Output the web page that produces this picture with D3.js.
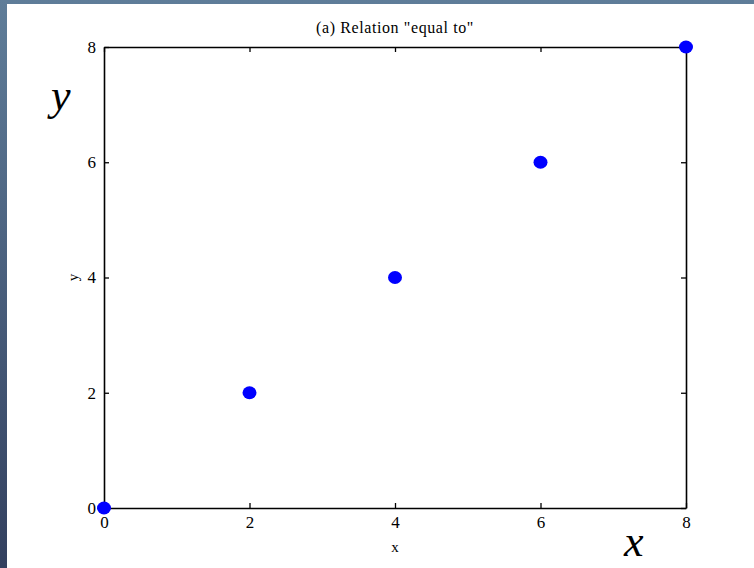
<!DOCTYPE html>
<html>
<head>
<meta charset="utf-8">
<script src="https://cdn.jsdelivr.net/npm/d3@7"></script>
<style>
  html, body { margin: 0; padding: 0; background: #4a6384; }
  svg { display: block; }
  text { font-family: "Liberation Serif", "Times New Roman", serif; fill: #000; }
</style>
</head>
<body>
<div id="chart"></div>
<script>
var width = 754,
	height = 568;

// data points of the relation "equal to"
var xValues = [0, 2, 4, 6, 8];
var yValues = [0, 2, 4, 6, 8];
var tickValues = [0, 2, 4, 6, 8];
var title = '(a) Relation "equal to"';

var svg = d3.select('#chart').append('svg')
	.attr('width', width)
	.attr('height', height);

// slide background
var defs = svg.append('defs');
var grad = defs.append('linearGradient')
	.attr('id', 'bg')
	.attr('x1', 0).attr('y1', 0).attr('x2', 0).attr('y2', 1);
grad.append('stop').attr('offset', '0%').attr('stop-color', '#5f7d99');
grad.append('stop').attr('offset', '100%').attr('stop-color', '#33405f');

svg.append('rect')
	.attr('width', width)
	.attr('height', height)
	.attr('fill', 'url(#bg)');

svg.append('rect')
	.attr('x', 7)
	.attr('y', 4)
	.attr('width', width - 7)
	.attr('height', height - 4)
	.attr('fill', '#fff');

var x = d3.scaleLinear().domain([0, 8]).range([104, 686]);
var y = d3.scaleLinear().domain([0, 8]).range([508, 47]);

var g = svg.append('g');

// bottom & left axes, ticks pointing in
g.append('g')
	.attr('transform', 'translate(0,' + y(0) + ')')
	.call(d3.axisBottom(x).tickValues(tickValues).tickSizeInner(-5).tickSizeOuter(0).tickPadding(8));

g.append('g')
	.attr('transform', 'translate(' + x(0) + ',0)')
	.call(d3.axisLeft(y).tickValues(tickValues).tickSizeInner(-5).tickSizeOuter(0).tickPadding(8));

// top & right mirror axes
g.append('g')
	.attr('transform', 'translate(0,' + y(8) + ')')
	.call(d3.axisTop(x).tickValues(tickValues).tickSizeInner(-5).tickSizeOuter(0).tickFormat(''));

g.append('g')
	.attr('transform', 'translate(' + x(8) + ',0)')
	.call(d3.axisRight(y).tickValues(tickValues).tickSizeInner(-5).tickSizeOuter(0).tickFormat(''));

g.selectAll('.domain').attr('stroke', '#000').attr('stroke-width', 1.6);
g.selectAll('.tick line').attr('stroke', '#000').attr('stroke-width', 1.3);
g.selectAll('.tick text')
	.style('font-family', '"Liberation Serif", serif')
	.style('font-size', '17px')
	.attr('fill', '#000');

// axis labels
svg.append('text')
	.attr('x', x(4))
	.attr('y', 552)
	.attr('text-anchor', 'middle')
	.style('font-size', '15px')
	.text('x');

svg.append('text')
	.attr('transform', 'translate(78,' + y(4) + ') rotate(-90)')
	.attr('text-anchor', 'middle')
	.style('font-size', '15px')
	.text('y');

svg.append('text')
	.attr('x', 395)
	.attr('y', 33)
	.attr('text-anchor', 'middle')
	.style('font-size', '16px')
	.style('letter-spacing', '0.6px')
	.text(title);

// big italic letters
svg.append('text')
	.attr('x', 51)
	.attr('y', 110)
	.style('font-size', '44px')
	.style('font-style', 'italic')
	.text('y');

svg.append('text')
	.attr('x', 624)
	.attr('y', 556)
	.style('font-size', '44px')
	.style('font-style', 'italic')
	.text('x');

// points
svg.selectAll('.dot')
	.data(xValues.map(function(d, i) { return [d, yValues[i]]; }))
	.enter().append('ellipse')
	.attr('class', 'dot')
	.attr('cx', function(d) { return x(d[0]); })
	.attr('cy', function(d) { return y(d[1]); })
	.attr('rx', 7)
	.attr('ry', 6.5)
	.attr('fill', '#0000ff');
</script>
</body>
</html>
